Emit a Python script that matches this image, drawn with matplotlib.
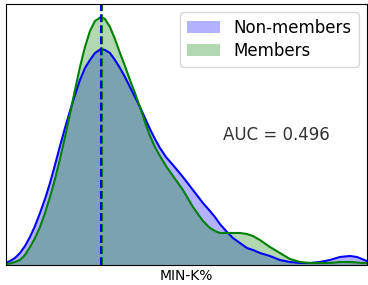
import numpy as np
import matplotlib.pyplot as plt

# MIN-K% score grid (arbitrary units, no ticks shown)
x = [6, 10, 15, 20, 25, 30, 35, 40, 45, 50, 55, 60, 65, 70, 75, 80, 85, 90, 95,
     101, 105, 110, 115, 120, 125, 130, 135, 140, 145, 150, 155, 160, 166, 173,
     183, 193, 203, 210, 215, 220, 227, 233, 240, 247, 253, 260, 270, 280, 290,
     300, 310, 320, 330, 340, 350, 357, 362, 367]

# density of non-members / members
non_members = [2, 4, 7, 12, 19, 28, 39, 52, 66, 82, 100, 119, 137, 154, 170, 185,
               197, 205, 212, 216, 215, 212, 205, 197, 188, 178, 168, 158, 147, 136,
               126, 117, 108, 100, 88, 75, 62, 54, 48, 41, 33, 27, 22, 17, 15, 12,
               9, 5, 3, 2, 2, 3, 5, 8, 9, 8, 6, 4]
members = [1, 1.5, 3, 5, 10, 18, 27, 38, 52, 68, 86, 106, 128, 151, 175, 198,
           218, 234, 244, 248, 246, 238, 226, 212, 199, 185, 172, 158, 143, 129,
           118, 109, 99, 89, 75, 58, 44, 37, 34, 32, 32, 32, 32, 31, 29, 25,
           18, 12, 6, 3, 2, 2, 2, 3, 3, 2.5, 2, 2]

peak_x = 101
auc = 0.496

fig = plt.figure(figsize=(3.68, 2.85), dpi=100)
ax = fig.add_axes([0.0163, 0.0702, 0.9807, 0.9158])

ax.fill_between(x, non_members, color='blue', alpha=0.3, lw=0, label='Non-members')
ax.plot(x, non_members, color='blue', lw=1.5)
ax.fill_between(x, members, color='green', alpha=0.3, lw=0, label='Members')
ax.plot(x, members, color='green', lw=1.5)

ax.axvline(peak_x + 0.8, color='green', linestyle='--', lw=1.5)
ax.axvline(peak_x, color='blue', linestyle='--', lw=1.5)

ax.set_xlim(6, 367)
ax.set_ylim(0, 261)
ax.set_xticks([])
ax.set_yticks([])
ax.set_xlabel('MIN-K%', fontsize=10, labelpad=3)

ax.text(0.748, 0.498, f'AUC = {auc:.3f}', transform=ax.transAxes,
        ha='center', va='center', fontsize=12, color='#333333')
ax.legend(loc='upper right', fontsize=12, labelspacing=0.3)

fig.savefig('out.png', dpi=100)
